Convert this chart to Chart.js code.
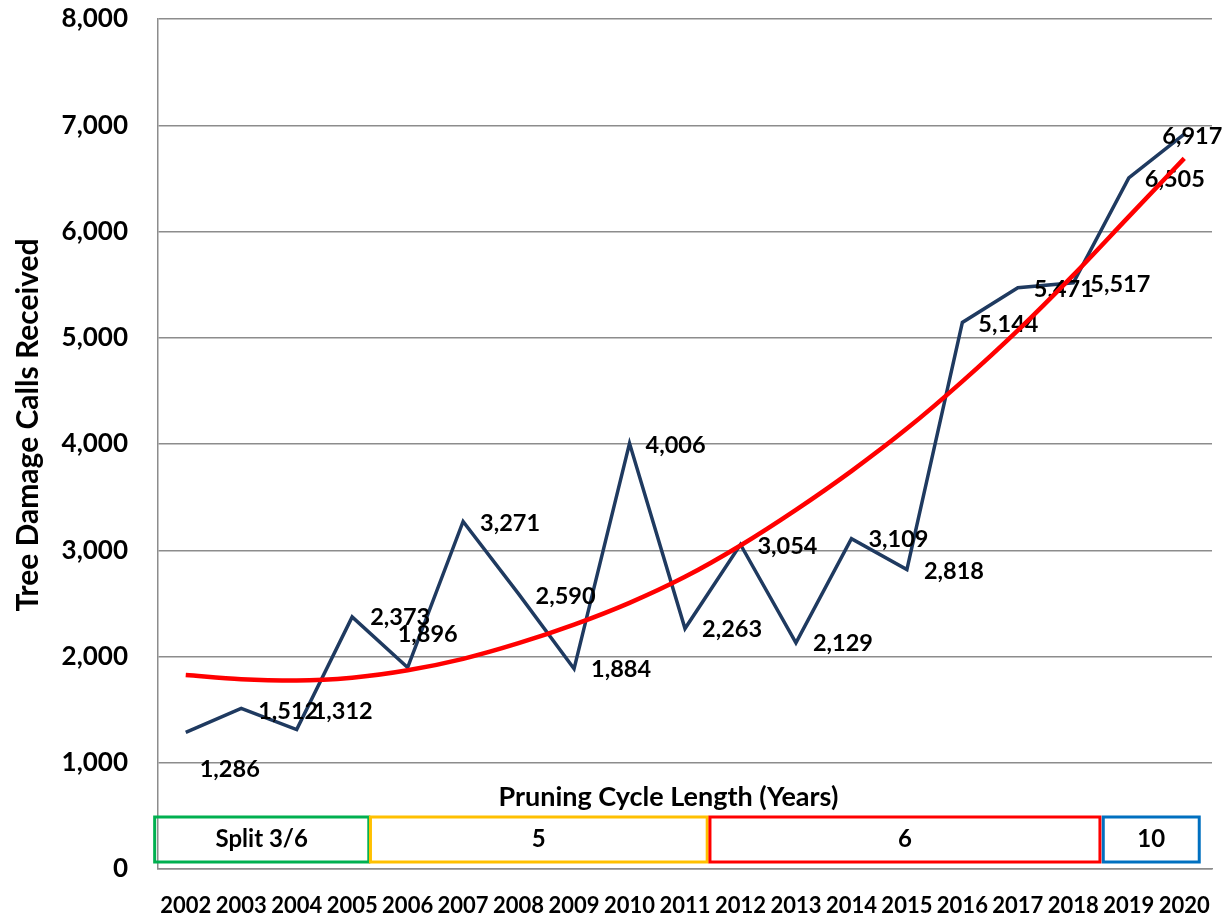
<!DOCTYPE html>
<html>
<head>
<meta charset="utf-8">
<script src="https://cdn.jsdelivr.net/npm/chart.js@4.4.1/dist/chart.umd.min.js"></script>
<style>
  html, body { margin: 0; padding: 0; background: #ffffff; }
  #wrap { width: 1222px; height: 914px; }
</style>
</head>
<body>
<div id="wrap"><canvas id="c" width="1222" height="914"></canvas></div>
<script>
// ---- data ----
const years = ['2002','2003','2004','2005','2006','2007','2008','2009','2010','2011',
               '2012','2013','2014','2015','2016','2017','2018','2019','2020'];
const calls = [1286, 1512, 1312, 2373, 1896, 3271, 2590, 1884, 4006, 2263,
               3054, 2129, 3109, 2818, 5144, 5471, 5517, 6505, 6917];
const trend = [1826, 1786, 1774, 1800, 1870, 1978, 2125, 2300, 2505, 2750,
               3045, 3380, 3745, 4145, 4590, 5070, 5590, 6140, 6688];
const cycleLabels = ['Split 3/6', '5', '6', '10'];
const yAxisTitle = 'Tree Damage Calls Received';
const cycleTitle = 'Pruning Cycle Length (Years)';

// ---- styling / placement ----
const FONT = "Lato, 'Open Sans', 'Liberation Sans', sans-serif";
const labelOffsets = [[14,37],[17,3],[16,-18],[18,1],[-10,-33],[17,2],[17,3],[17,1],[16,2],[17,1],
                      [17,2],[17,1],[17,1],[17,2],[16,2],[16,2],[17,2],[16,2],[-22,2]];
const cycleBoxSpans = [[-0.56, 3.3], [3.33, 9.4], [9.45, 16.48], [16.54, 18.27]];
const cycleColors = ['#00B050', '#FFC000', '#FF0000', '#0070C0'];

const fmt = v => Number(v).toLocaleString('en-US');

const overlayPlugin = {
  id: 'overlay',
  afterDatasetDraw(chart, args) {
    if (args.index !== 1) return; // after the blue series, before the red trend
    const ctx = chart.ctx;
    const meta = chart.getDatasetMeta(1);
    ctx.save();
    ctx.font = "bold 23.5px " + FONT;
    ctx.fillStyle = '#000000';
    ctx.textAlign = 'left';
    ctx.textBaseline = 'middle';
    meta.data.forEach((pt, i) => {
      const o = labelOffsets[i];
      ctx.fillText(fmt(calls[i]), pt.x + o[0], pt.y + o[1]);
    });
    ctx.restore();
  },
  afterDraw(chart) {
    const ctx = chart.ctx;
    const xs = chart.scales.x;
    ctx.save();
    // y axis title
    ctx.translate(28, 425);
    ctx.rotate(-Math.PI / 2);
    ctx.font = "bold 30px " + FONT;
    ctx.fillStyle = '#000000';
    ctx.textAlign = 'center';
    ctx.textBaseline = 'middle';
    ctx.fillText(yAxisTitle, 0, 0);
    ctx.restore();

    ctx.save();
    ctx.font = "bold 27px " + FONT;
    ctx.fillStyle = '#000000';
    ctx.textAlign = 'center';
    ctx.textBaseline = 'middle';
    ctx.fillText(cycleTitle, xs.getPixelForValue(8.7), 797);

    const top = 817, bottom = 862;
    cycleBoxSpans.forEach((s, i) => {
      const x0 = xs.getPixelForValue(s[0]);
      const x1 = xs.getPixelForValue(s[1]);
      ctx.lineWidth = 3;
      ctx.strokeStyle = cycleColors[i];
      ctx.strokeRect(x0, top, x1 - x0, bottom - top);
      ctx.font = "bold 24px " + FONT;
      ctx.fillStyle = '#000000';
      ctx.fillText(cycleLabels[i], (x0 + x1) / 2, (top + bottom) / 2);
    });
    ctx.restore();
  }
};

new Chart(document.getElementById('c'), {
  type: 'line',
  data: {
    labels: years,
    datasets: [
      {
        label: 'Trend',
        data: trend,
        borderColor: '#FF0000',
        borderWidth: 4.5,
        pointRadius: 0,
        cubicInterpolationMode: 'monotone',
        fill: false
      },
      {
        label: 'Tree Damage Calls',
        data: calls,
        borderColor: '#1F3A60',
        borderWidth: 3.5,
        pointRadius: 0,
        tension: 0,
        fill: false
      }
    ]
  },
  options: {
    responsive: false,
    animation: false,
    devicePixelRatio: 1,
    layout: { padding: { top: 19, right: 10, left: 0, bottom: 0 } },
    plugins: { legend: { display: false }, tooltip: { enabled: false }, title: { display: false } },
    scales: {
      x: {
        offset: true,
        grid: { display: false, drawTicks: false },
        border: { display: true, color: '#8C8C8C', width: 1.5 },
        ticks: {
          autoSkip: false, maxRotation: 0, minRotation: 0, padding: 24,
          color: '#000000', font: { family: FONT, size: 22, weight: 'bold' }
        },
        afterFit(scale) {
          scale.height = 45;
          scale.paddingLeft = 0; scale.paddingRight = 0;
          scale.paddingTop = 0; scale.paddingBottom = 0;
        }
      },
      y: {
        min: 0, max: 8000,
        grid: { color: '#8C8C8C', lineWidth: 1.5, drawTicks: false },
        border: { display: true, color: '#8C8C8C', width: 1.5 },
        ticks: {
          stepSize: 1000, padding: 30, color: '#000000',
          font: { family: FONT, size: 26, weight: 'bold' },
          callback: v => fmt(v)
        },
        afterFit(scale) {
          scale.width = 158;
          scale.paddingTop = 0; scale.paddingBottom = 0;
          scale.paddingLeft = 0; scale.paddingRight = 0;
        }
      }
    }
  },
  plugins: [overlayPlugin]
});
</script>
</body>
</html>
